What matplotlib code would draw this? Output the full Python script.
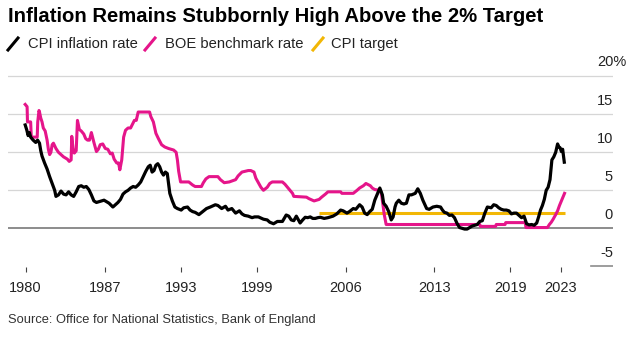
import matplotlib
matplotlib.use("Agg")
import matplotlib.pyplot as plt
from matplotlib.lines import Line2D

# UK CPI annual rate (decimal year, %)
cpi_years = [1980.67, 1980.8, 1980.9, 1981.0, 1981.1, 1981.3, 1981.5, 1981.65, 1981.8, 1981.9,
             1982.0, 1982.2, 1982.4, 1982.6, 1982.8, 1983.0, 1983.1, 1983.3, 1983.5, 1983.7,
             1983.9, 1984.1, 1984.3, 1984.5, 1984.7, 1984.9, 1985.1, 1985.3, 1985.5, 1985.7,
             1985.9, 1986.1, 1986.3, 1986.5, 1986.7, 1986.9, 1987.1, 1987.3, 1987.6, 1987.8,
             1988.0, 1988.2, 1988.4, 1988.6, 1988.8, 1989.0, 1989.2, 1989.4, 1989.6, 1989.8,
             1990.0, 1990.2, 1990.4, 1990.55, 1990.7, 1990.85, 1991.0, 1991.15, 1991.3, 1991.45,
             1991.6, 1991.75, 1991.9, 1992.0, 1992.1, 1992.3, 1992.5, 1992.7, 1993.0, 1993.2,
             1993.5, 1993.7, 1993.9, 1994.1, 1994.4, 1994.7, 1995.0, 1995.3, 1995.7, 1995.9,
             1996.2, 1996.5, 1996.7, 1997.0, 1997.3, 1997.6, 1997.8, 1998.0, 1998.3, 1998.6,
             1998.8, 1999.1, 1999.5, 1999.8, 2000.0, 2000.3, 2000.6, 2000.8, 2001.0, 2001.3,
             2001.5, 2001.7, 2001.9, 2002.1, 2002.4, 2002.6, 2002.8, 2003.0, 2003.2, 2003.4,
             2003.6, 2003.8, 2004.0, 2004.3, 2004.6, 2004.8, 2005.0, 2005.3, 2005.6, 2005.8,
             2006.1, 2006.3, 2006.6, 2006.8, 2007.1, 2007.3, 2007.5, 2007.7, 2007.9, 2008.1,
             2008.3, 2008.5, 2008.7, 2008.9, 2009.0, 2009.2, 2009.4, 2009.6, 2009.75, 2009.9,
             2010.0, 2010.2, 2010.4, 2010.6, 2010.8, 2011.0, 2011.2, 2011.35, 2011.5, 2011.7,
             2011.9, 2012.1, 2012.4, 2012.6, 2012.9, 2013.2, 2013.5, 2013.65, 2013.8, 2014.0,
             2014.2, 2014.4, 2014.6, 2014.8, 2015.0, 2015.2, 2015.4, 2015.6, 2015.8, 2016.0,
             2016.2, 2016.4, 2016.6, 2016.8, 2017.0, 2017.2, 2017.5, 2017.7, 2017.9, 2018.1,
             2018.3, 2018.5, 2018.7, 2018.9, 2019.1, 2019.3, 2019.5, 2019.7, 2019.9, 2020.1,
             2020.3, 2020.5, 2020.7, 2020.9, 2021.1, 2021.25, 2021.4, 2021.55, 2021.7, 2021.85,
             2022.0, 2022.15, 2022.3, 2022.45, 2022.6, 2022.75, 2022.85, 2022.95, 2023.05, 2023.15,
             2023.28]
cpi_values = [13.6, 12.9, 12.2, 12.6, 12.0, 11.6, 11.3, 11.6, 11.2, 10.2,
              9.5, 8.6, 7.8, 6.8, 5.9, 5.0, 4.2, 4.4, 4.9, 4.5,
              4.4, 4.8, 4.4, 4.2, 4.8, 5.5, 5.6, 5.4, 5.5, 5.1,
              4.4, 3.6, 3.4, 3.5, 3.6, 3.7, 3.5, 3.3, 2.8, 3.1,
              3.4, 3.8, 4.5, 4.8, 5.0, 5.3, 5.5, 5.4, 5.7, 6.1,
              6.8, 7.5, 8.1, 8.3, 7.4, 7.6, 8.3, 8.5, 8.1, 7.4,
              7.0, 7.4, 7.2, 5.9, 4.6, 3.6, 2.8, 2.6, 2.4, 2.7,
              2.8, 2.4, 2.2, 2.1, 1.8, 2.2, 2.6, 2.8, 3.1, 3.0,
              2.6, 2.9, 2.4, 2.6, 2.0, 2.3, 1.9, 1.7, 1.6, 1.4,
              1.5, 1.5, 1.2, 1.1, 0.8, 0.6, 0.9, 0.9, 0.9, 1.75,
              1.6, 1.1, 1.0, 1.6, 0.7, 1.1, 1.45, 1.4, 1.5, 1.3,
              1.3, 1.4, 1.45, 1.3, 1.4, 1.5, 1.6, 1.9, 2.4, 2.3,
              2.0, 2.2, 2.6, 2.5, 3.1, 2.8, 2.0, 1.8, 2.2, 2.5,
              3.7, 4.5, 5.3, 4.4, 3.3, 2.9, 2.2, 1.1, 1.5, 2.8,
              3.3, 3.7, 3.3, 3.2, 3.3, 4.4, 4.4, 4.5, 4.6, 5.2,
              4.6, 3.7, 2.6, 2.5, 2.8, 2.9, 2.8, 2.4, 2.1, 2.0,
              1.7, 1.75, 1.4, 0.65, 0.1, 0.0, -0.1, -0.1, 0.1, 0.3,
              0.4, 0.5, 0.9, 1.0, 2.0, 2.8, 2.7, 3.1, 3.0, 2.7,
              2.5, 2.4, 2.4, 2.3, 1.9, 2.0, 2.0, 1.7, 1.4, 1.6,
              0.6, 0.45, 0.5, 0.4, 0.7, 1.5, 2.4, 3.0, 3.8, 5.0,
              5.4, 6.4, 9.0, 9.4, 10.0, 11.1, 10.7, 10.6, 10.1, 10.4,
              8.7]

# Bank of England benchmark rate (decimal year, %)
boe_years = [1980.67, 1980.82, 1980.85, 1981.1, 1981.15, 1981.62, 1981.66, 1981.76, 1981.8, 1981.9,
             1982.0, 1982.1, 1982.25, 1982.4, 1982.5, 1982.6, 1982.7, 1982.8, 1982.9, 1983.1,
             1983.3, 1983.5, 1983.7, 1984.0, 1984.15, 1984.3, 1984.35, 1984.45, 1984.55, 1984.7,
             1984.8, 1984.95, 1985.1, 1985.3, 1985.45, 1985.6, 1985.75, 1985.9, 1986.1, 1986.3,
             1986.45, 1986.6, 1986.8, 1987.0, 1987.2, 1987.4, 1987.55, 1987.7, 1987.9, 1988.05,
             1988.15, 1988.3, 1988.45, 1988.6, 1988.8, 1989.0, 1989.3, 1989.45, 1989.6, 1990.0,
             1990.5, 1990.6, 1990.8, 1991.0, 1991.2, 1991.45, 1991.7, 1992.0, 1992.4, 1992.6,
             1992.7, 1992.8, 1992.95, 1993.6, 1993.9, 1994.1, 1994.6, 1994.75, 1994.95, 1995.2,
             1995.9, 1996.1, 1996.4, 1996.8, 1997.3, 1997.5, 1997.8, 1998.3, 1998.5, 1998.75,
             1998.9, 1999.1, 1999.3, 1999.5, 1999.8, 2000.0, 2000.2, 2001.0, 2001.2, 2001.4,
             2001.6, 2001.8, 2001.9, 2002.9, 2003.1, 2003.5, 2003.9, 2004.1, 2004.4, 2004.6,
             2005.6, 2005.7, 2006.6, 2006.9, 2007.1, 2007.4, 2007.6, 2007.95, 2008.1, 2008.3,
             2008.75, 2008.85, 2008.95, 2009.05, 2009.2, 2016.6, 2016.65, 2017.85, 2017.9, 2018.6,
             2018.65, 2020.2, 2020.25, 2021.95, 2022.1, 2022.25, 2022.4, 2022.6, 2022.75, 2022.9,
             2023.05, 2023.2, 2023.3]
boe_rates = [16.3, 16.0, 14.0, 14.0, 12.0, 12.0, 14.0, 15.5, 15.3, 14.5,
             14.0, 13.2, 12.8, 11.6, 10.4, 9.7, 10.0, 11.0, 11.2, 10.5,
             10.0, 9.7, 9.4, 9.1, 8.8, 9.0, 12.1, 10.5, 9.9, 10.2,
             14.2, 13.0, 12.8, 12.4, 11.8, 11.6, 11.6, 12.6, 11.3, 10.1,
             10.4, 11.0, 11.1, 10.5, 10.4, 9.8, 9.9, 9.1, 8.6, 8.6,
             7.7, 9.0, 12.0, 12.9, 13.2, 13.2, 14.2, 14.2, 15.3, 15.3,
             15.3, 14.7, 14.0, 12.5, 11.8, 11.0, 10.7, 10.5, 10.3, 10.0,
             9.0, 7.5, 6.1, 6.1, 5.7, 5.5, 5.5, 6.0, 6.5, 6.8,
             6.8, 6.4, 6.0, 6.1, 6.4, 6.9, 7.4, 7.6, 7.6, 7.4,
             6.6, 6.0, 5.4, 5.0, 5.4, 5.9, 6.1, 6.1, 5.8, 5.4,
             5.0, 4.6, 4.2, 4.1, 3.9, 3.6, 3.8, 4.1, 4.5, 4.8,
             4.8, 4.6, 4.6, 5.0, 5.3, 5.6, 5.9, 5.6, 5.3, 5.1,
             5.0, 4.3, 3.0, 1.8, 0.5, 0.5, 0.25, 0.25, 0.5, 0.5,
             0.75, 0.75, 0.1, 0.1, 0.5, 0.8, 1.2, 1.8, 2.3, 3.0,
             3.6, 4.2, 4.6]

target_years = [2003.9, 2023.3]
target_values = [2.0, 2.0]

y_ticks = [15, 10, 5, 0, -5]
x_tick_pos = [1980.7, 1987, 1993, 1999, 2006, 2013, 2019, 2023]
x_tick_labels = ["1980", "1987", "1993", "1999", "2006", "2013", "2019", "2023"]

W, H = 631, 337
plt.rcParams["font.family"] = ["Liberation Sans", "DejaVu Sans"]

fig = plt.figure(figsize=(W / 100, H / 100), dpi=100)

def fx(px):
    return px / W

def fy(py):
    return 1 - py / H

# plot area in pixels: x 8..613, y 70..272
ax = fig.add_axes([fx(8), fy(272), (613 - 8) / W, (272 - 70) / H])
ax.set_xlim(1979.31, 2027.13)
ax.set_ylim(-5.75, 20.83)

for v in [5, 10, 15, 20]:
    ax.axhline(v, color="#d6d6d6", lw=0.9, zorder=1)
ax.axhline(0, color="#8c8c8c", lw=1.4, zorder=1)
ax.axhline(-5, xmin=(591 - 8) / 605, xmax=1, color="#8c8c8c", lw=1.2, zorder=1)

ax.plot(target_years, target_values, color="#f2b705", lw=2.2, zorder=2, solid_capstyle="butt")
ax.plot(boe_years, boe_rates, color="#e5158a", lw=2.2, zorder=3)
ax.plot(cpi_years, cpi_values, color="#000000", lw=2.3, zorder=4)

# y labels sit above their gridlines, on the right
for v in y_ticks:
    ax.text(2027.13, v + 1.75, str(v), ha="right", va="center", fontsize=10.5, color="#222222")
fig.text(fx(626), fy(62), "20%", ha="right", va="center", fontsize=10.5, color="#222222")

ax.set_xticks(x_tick_pos)
ax.set_xticklabels(x_tick_labels)
ax.tick_params(axis="x", direction="in", length=3.3, width=0.8, color="#444444",
               pad=6.5, labelsize=10.5, labelcolor="#222222")
ax.set_yticks([])
for s in ax.spines.values():
    s.set_visible(False)

# title, legend and source
fig.text(fx(8), fy(16), "Inflation Remains Stubbornly High Above the 2% Target",
         ha="left", va="center", fontsize=14.6, fontweight="bold", color="#000000")

legend_items = [(8, 28, "#000000", "CPI inflation rate"),
                (145, 165, "#e5158a", "BOE benchmark rate"),
                (313, 331, "#f2b705", "CPI target")]
for x0, xt, c, label in legend_items:
    fig.add_artist(Line2D([fx(x0), fx(x0 + 10)], [fy(50), fy(38)], color=c, lw=2.2,
                          transform=fig.transFigure))
    fig.text(fx(xt), fy(44), label, ha="left", va="center", fontsize=10.6, color="#222222")

fig.text(fx(8), fy(320), "Source: Office for National Statistics, Bank of England",
         ha="left", va="center", fontsize=9.3, color="#333333")

fig.savefig("out.png", dpi=100)
plt.close(fig)
